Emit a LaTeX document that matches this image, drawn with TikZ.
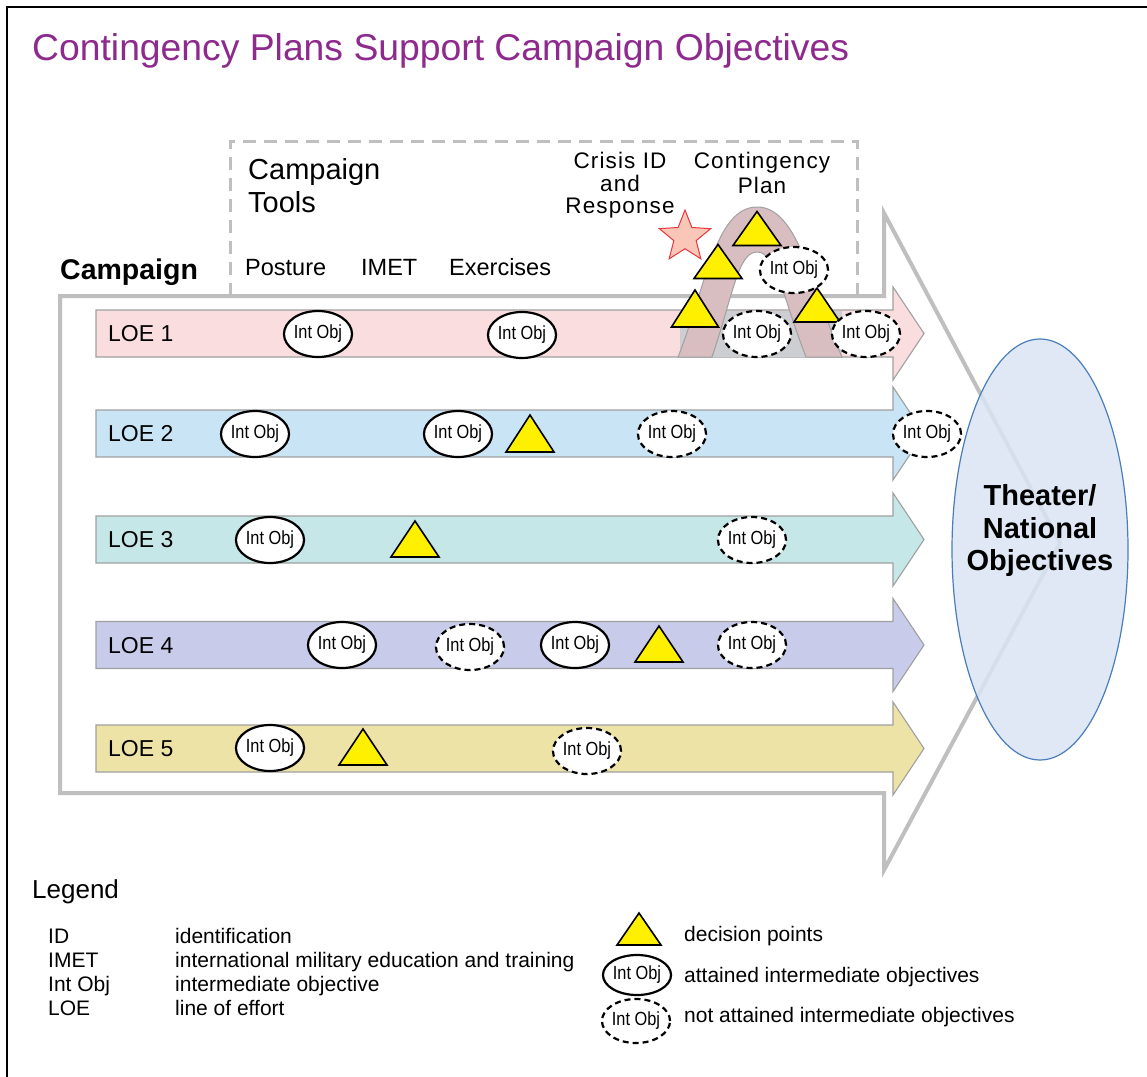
\documentclass[tikz,border=0pt]{standalone}
\usepackage{fontspec}
\setmainfont{Liberation Sans}
\newfontfamily\narrowfont[FakeStretch=0.86]{Liberation Sans}
\newfontfamily\spacedfont[LetterSpace=5]{Liberation Sans}
\usetikzlibrary{shapes.geometric}
\definecolor{ttl}{RGB}{142,42,142}
\definecolor{outl}{RGB}{191,191,191}
\definecolor{loeline}{RGB}{160,160,160}
\definecolor{loeA}{RGB}{250,221,222}
\definecolor{loeB}{RGB}{201,228,245}
\definecolor{loeC}{RGB}{198,231,231}
\definecolor{loeD}{RGB}{200,203,233}
\definecolor{loeE}{RGB}{237,227,167}
\definecolor{grayband}{RGB}{205,206,209}
\definecolor{bandfill}{RGB}{217,190,193}
\definecolor{dpyellow}{RGB}{255,240,0}
\definecolor{starfill}{RGB}{249,198,184}
\definecolor{starline}{RGB}{232,54,58}
\definecolor{thfill}{RGB}{218,229,243}
\definecolor{thline}{RGB}{74,126,187}
\tikzset{
  io/.style={ellipse, draw=black, line width=2.2pt, fill=white,
    minimum width=64pt, minimum height=46pt, inner sep=0pt,
    font=\narrowfont\fontsize{19}{21}\selectfont},
  ion/.style={io, dash pattern=on 6pt off 4pt},
  dpstyle/.style={draw=black, line width=1.6pt, fill=dpyellow, line join=miter},
  loe/.style={draw=loeline, line width=1.1pt},
  txt/.style={inner sep=0pt, anchor=base west},
  ctxt/.style={inner sep=0pt, anchor=base},
}
\newcommand\dpt[4]{\draw[dpstyle] ({#1-#3/2},{#2+#4/2}) -- (#1,{#2-#4/2}) -- ({#1+#3/2},{#2+#4/2}) -- cycle;}
\newcommand\loearrow[2]{\draw[loe, fill=#2] (96,{#1-23.5}) -- (893,{#1-23.5}) -- (893,{#1-46.5}) -- (924,#1) -- (893,{#1+46.5}) -- (893,{#1+23.5}) -- (96,{#1+23.5}) -- cycle;}
\begin{document}
\begin{tikzpicture}[x=1pt,y=-1pt]
\useasboundingbox (0,0) rectangle (1147,1076);
\fill[white] (0,0) rectangle (1147,1076);
\draw[line width=2pt] (7,1080) -- (7,7) -- (1150,7);

% title
\node[txt, text=ttl, font=\fontsize{37.3}{44}\selectfont] (title) at (32,60) {Contingency Plans Support Campaign Objectives};

% campaign big arrow outline
\draw[draw=outl, line width=4pt, line join=miter] (60,296) -- (884,296) -- (884,213) -- (1060,543) -- (884,870) -- (884,793) -- (60,793) -- cycle;

% campaign tools dashed box
\draw[draw=outl, line width=3pt, dash pattern=on 13pt off 8pt] (230,296) -- (230,141) -- (857,141) -- (857,296);

\node[txt, font=\bfseries\fontsize{28.5}{34}\selectfont] (campaign) at (60,279) {Campaign};
\node[txt, font=\fontsize{29}{34}\selectfont] (tools1) at (248,179) {Campaign};
\node[txt, font=\fontsize{29}{34}\selectfont] (tools2) at (248,212) {Tools};
\node[txt, font=\fontsize{23.5}{28}\selectfont] (posture) at (245,275) {Posture};
\node[txt, font=\fontsize{23.5}{28}\selectfont] (imet) at (361,275) {IMET};
\node[txt, font=\fontsize{23.5}{28}\selectfont] (exer) at (449,275) {Exercises};
\node[ctxt, font=\spacedfont\fontsize{22.5}{26}\selectfont] (cr1) at (620,168) {Crisis ID};
\node[ctxt, font=\spacedfont\fontsize{22.5}{26}\selectfont] (cr2) at (620,191) {and};
\node[ctxt, font=\spacedfont\fontsize{22.5}{26}\selectfont] (cr3) at (620,213) {Response};
\node[ctxt, font=\spacedfont\fontsize{22.5}{26}\selectfont] (cp1) at (762,168) {Contingency};
\node[ctxt, font=\spacedfont\fontsize{22.5}{26}\selectfont] (cp2) at (762,193) {Plan};

% LOE arrows
\loearrow{333.5}{loeA}
\loearrow{433.5}{loeB}
\loearrow{539.5}{loeC}
\loearrow{645}{loeD}
\loearrow{748.5}{loeE}

% contingency section of LOE 1
\fill[grayband] (680,310.5) rectangle (842,356.5);
\draw[draw=loeline, line width=1pt, fill=bandfill]
  (678,357) .. controls (705,290) and (715,207) .. (757,207)
  .. controls (799,207) and (812,290) .. (842,357)
  -- (806,357) .. controls (782,295) and (776,252) .. (757,252)
  .. controls (738,252) and (733,295) .. (712,357) -- cycle;

% theater ellipse
\node[ellipse, minimum width=176pt, minimum height=421pt, fill=thfill, fill opacity=0.85, draw=thline, line width=1.2pt] (theater) at (1040,549.5) {};
\node[ctxt, font=\bfseries\fontsize{29}{33}\selectfont] (th1) at (1040,505) {Theater/};
\node[ctxt, font=\bfseries\fontsize{29}{33}\selectfont] (th2) at (1040,538) {National};
\node[ctxt, font=\bfseries\fontsize{29}{33}\selectfont] (th3) at (1040,570) {Objectives};

% LOE labels
\foreach \n/\y in {1/341.5,2/441.5,3/547.5,4/653,5/756.5}
  \node[txt, font=\fontsize{23}{27}\selectfont] (loe\n) at (108,\y) {LOE \n};

% LOE 1
\node[io] (a1) at (318,334) {Int Obj};
\node[io] (a2) at (522,335) {Int Obj};
\dpt{695}{308.5}{47}{37}
\dpt{718}{261.5}{48}{34}
\dpt{757}{228.5}{48}{34}
\dpt{817}{305}{46}{34}
\node[ion] (a3) at (794,270) {Int Obj};
\node[ion] (a4) at (757,334) {Int Obj};
\node[ion] (a5) at (866,334) {Int Obj};
\node[star, star points=5, star point ratio=2.3, minimum size=54pt, inner sep=0pt, draw=starline, fill=starfill, line width=1pt] (star) at (685,237) {};

% LOE 2
\node[io] (b1) at (255,434) {Int Obj};
\node[io] (b2) at (458,434) {Int Obj};
\dpt{530}{433.5}{48}{37}
\node[ion] (b3) at (672,434) {Int Obj};
\node[ion] (b4) at (927,434) {Int Obj};

% LOE 3
\node[io] (c1) at (270,540) {Int Obj};
\dpt{415}{539}{48}{36}
\node[ion] (c2) at (752,540) {Int Obj};

% LOE 4
\node[io] (d1) at (342,645) {Int Obj};
\node[ion] (d2) at (470,647) {Int Obj};
\node[io] (d3) at (575,645) {Int Obj};
\dpt{659}{644}{48}{36}
\node[ion] (d4) at (752,645) {Int Obj};

% LOE 5
\node[io] (e1) at (270,748) {Int Obj};
\dpt{363}{747}{48}{36}
\node[ion] (e2) at (587,751) {Int Obj};

% legend
\node[txt, font=\fontsize{26}{30}\selectfont] (legend) at (32,898) {Legend};
\foreach \i/\ab/\de/\y in {1/ID/identification/943, 2/IMET/international military education and training/967, 3/Int Obj/intermediate objective/991, 4/LOE/line of effort/1015}{
  \node[txt, font=\fontsize{21}{25}\selectfont] (ab\i) at (48,\y) {\ab};
  \node[txt, font=\fontsize{21}{25}\selectfont] (de\i) at (175,\y) {\de};
}
\dpt{639}{929}{44}{32}
\node[io, minimum width=62pt, minimum height=40pt] (lg1) at (637,975) {Int Obj};
\node[ion, minimum width=62pt, minimum height=44pt] (lg2) at (636,1021) {Int Obj};
\node[txt, font=\fontsize{21}{25}\selectfont] (lt1) at (684,941) {decision points};
\node[txt, font=\fontsize{21}{25}\selectfont] (lt2) at (684,982) {attained intermediate objectives};
\node[txt, font=\fontsize{21}{25}\selectfont] (lt3) at (684,1022) {not attained intermediate objectives};
\end{tikzpicture}
\end{document}
